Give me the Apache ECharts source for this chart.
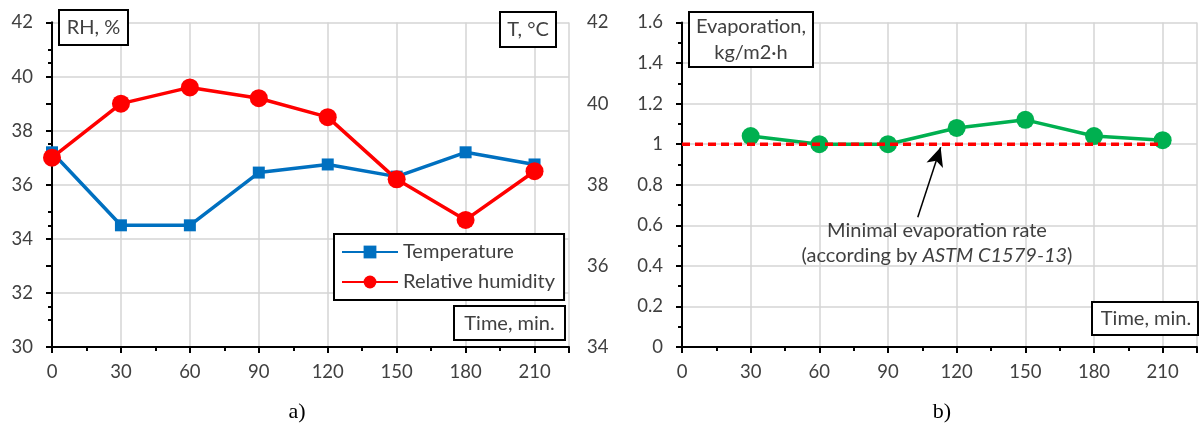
<!DOCTYPE html>
<html>
<head>
<meta charset="utf-8">
<script src="https://cdn.jsdelivr.net/npm/echarts@6/dist/echarts.min.js"></script>
<style>
html,body{margin:0;padding:0;background:#fff;}
#c{width:1200px;height:425px;}
</style>
</head>
<body>
<div id="c"></div>
<script>
// ---- data ----
const timeA = [0, 30, 60, 90, 120, 150, 180, 210];
const temperature = [38.8, 37.0, 37.0, 38.3, 38.5, 38.2, 38.8, 38.5];
const humidity = [37.0, 39.0, 39.6, 39.2, 38.5, 36.2, 34.7, 36.5];
const timeB = [30, 60, 90, 120, 150, 180, 210];
const evaporation = [1.04, 1.0, 1.0, 1.08, 1.12, 1.04, 1.02];
const minRateX = [0, 210];
const minRate = 1.0;
const arrowFrom = [103, 0.64];
const arrowTo = [113, 0.985];

const FONT = 'Lato';
const TXT = '#404040';
const GRID = '#d4d4d4';
const LBL = 18.5;
const BOX = 20;

function pair(xs, ys) { return xs.map((x, i) => [x, ys[i]]); }

function mainX(gridIndex) {
  return {
    type: 'value', gridIndex, min: 0, max: 225, interval: 30, position: 'bottom',
    axisLine: { show: true, onZero: false, lineStyle: { color: '#000', width: 2 } },
    axisTick: { show: true, length: 6, lineStyle: { color: '#000', width: 2 } },
    axisLabel: { margin: 16, fontFamily: FONT, fontSize: LBL, color: TXT,
      formatter: v => (v <= 210 ? String(v) : '') },
    splitLine: { show: true, lineStyle: { color: GRID, width: 1.5 } }
  };
}
function minorX(gridIndex) {
  return {
    type: 'value', gridIndex, min: 0, max: 225, interval: 15, position: 'bottom',
    axisLine: { show: false, onZero: false },
    axisTick: { show: true, length: 4, lineStyle: { color: '#000', width: 2 } },
    axisLabel: { show: false },
    splitLine: { show: false }
  };
}

const chart = echarts.init(document.getElementById('c'), null, { renderer: 'canvas' });

const option = {
  animation: false,
  backgroundColor: '#fff',
  grid: [
    { left: 52, top: 22.5, width: 517, height: 324.5 },
    { left: 682, top: 22.5, width: 535, height: 324.5 }
  ],
  xAxis: [mainX(0), minorX(0), mainX(1), minorX(1)],
  yAxis: [
    {
      type: 'value', gridIndex: 0, min: 30, max: 42, interval: 2, position: 'left',
      axisLine: { show: true, lineStyle: { color: '#000', width: 2 } },
      axisTick: { show: true, length: 6, lineStyle: { color: '#000', width: 2 } },
      minorTick: { show: true, splitNumber: 2, length: 4, lineStyle: { color: '#000', width: 2 } },
      axisLabel: { margin: 19, fontFamily: FONT, fontSize: LBL, color: TXT },
      splitLine: { show: true, lineStyle: { color: GRID, width: 1.5 } }
    },
    {
      type: 'value', gridIndex: 0, min: 34, max: 42, interval: 2, position: 'right',
      axisLine: { show: true, lineStyle: { color: '#000', width: 2 } },
      axisTick: { show: true, inside: true, length: 6, lineStyle: { color: '#000', width: 2 } },
      minorTick: { show: true, splitNumber: 2, length: 4, lineStyle: { color: '#000', width: 2 } },
      axisLabel: { margin: 18, fontFamily: FONT, fontSize: LBL, color: TXT },
      splitLine: { show: false }
    },
    {
      type: 'value', gridIndex: 1, min: 0, max: 1.6, interval: 0.2, position: 'left',
      axisLine: { show: true, lineStyle: { color: '#000', width: 2 } },
      axisTick: { show: true, length: 6, lineStyle: { color: '#000', width: 2 } },
      minorTick: { show: true, splitNumber: 2, length: 4, lineStyle: { color: '#000', width: 2 } },
      axisLabel: { margin: 19, fontFamily: FONT, fontSize: LBL, color: TXT },
      splitLine: { show: true, lineStyle: { color: GRID, width: 1.5 } }
    }
  ],
  legend: {
    data: ['Temperature', 'Relative humidity'],
    orient: 'vertical', left: 334, top: 234,
    padding: [8, 9, 8, 7], itemGap: 10, itemWidth: 56, itemHeight: 16,
    borderColor: '#000', borderWidth: 2, backgroundColor: '#fff',
    textStyle: { fontFamily: FONT, fontSize: BOX, color: TXT, padding: [0, 0, 0, 0] }
  },
  series: [
    {
      name: 'Temperature', type: 'line', xAxisIndex: 0, yAxisIndex: 1,
      data: pair(timeA, temperature),
      symbol: 'rect', symbolSize: 12,
      lineStyle: { color: '#0070C0', width: 3.5 },
      itemStyle: { color: '#0070C0' }, z: 3
    },
    {
      name: 'Relative humidity', type: 'line', xAxisIndex: 0, yAxisIndex: 0,
      data: pair(timeA, humidity),
      symbol: 'circle', symbolSize: 18,
      lineStyle: { color: '#FF0000', width: 3.5 },
      itemStyle: { color: '#FF0000' }, z: 4
    },
    {
      name: 'Evaporation', type: 'line', xAxisIndex: 2, yAxisIndex: 2,
      data: pair(timeB, evaporation),
      symbol: 'circle', symbolSize: 18,
      lineStyle: { color: '#00B050', width: 3.5 },
      itemStyle: { color: '#00B050' }, z: 3,
      markLine: {
        silent: true, animation: false,
        symbol: ['none', 'arrow'], symbolSize: [13, 19],
        label: { show: false },
        lineStyle: { color: '#000', width: 1.5, type: 'solid' },
        data: [[{ coord: arrowFrom }, { coord: arrowTo }]]
      }
    },
    {
      name: 'Minimal evaporation rate', type: 'line', xAxisIndex: 2, yAxisIndex: 2,
      data: minRateX.map(x => [x, minRate]),
      symbol: 'none',
      lineStyle: { color: '#FF0000', width: 3.5, type: [8, 5] }, z: 5
    }
  ],
  graphic: [
    // RH box
    { type: 'rect', shape: { x: 59, y: 10, width: 69, height: 35 }, style: { fill: '#fff', stroke: '#000', lineWidth: 2 }, z: 10 },
    { type: 'text', x: 93.5, y: 28, style: { text: 'RH, %', font: BOX + 'px Lato', fill: TXT, align: 'center', verticalAlign: 'middle' }, z: 11 },
    // T box
    { type: 'rect', shape: { x: 500, y: 12, width: 56, height: 35 }, style: { fill: '#fff', stroke: '#000', lineWidth: 2 }, z: 10 },
    { type: 'text', x: 528, y: 30, style: { text: 'T, \u00B0C', font: BOX + 'px Lato', fill: TXT, align: 'center', verticalAlign: 'middle' }, z: 11 },
    // Time box left
    { type: 'rect', shape: { x: 454, y: 306, width: 111, height: 34 }, style: { fill: '#fff', stroke: '#000', lineWidth: 2 }, z: 10 },
    { type: 'text', x: 509.5, y: 323.5, style: { text: 'Time, min.', font: BOX + 'px Lato', fill: TXT, align: 'center', verticalAlign: 'middle' }, z: 11 },
    // Evaporation box
    { type: 'rect', shape: { x: 689, y: 12, width: 124, height: 55 }, style: { fill: '#fff', stroke: '#000', lineWidth: 2 }, z: 10 },
    { type: 'text', x: 751, y: 40, style: { text: 'Evaporation,\nkg/m2\u00B7h', font: BOX + 'px Lato', fill: TXT, align: 'center', verticalAlign: 'middle', lineHeight: 26 }, z: 11 },
    // Time box right
    { type: 'rect', shape: { x: 1092, y: 302, width: 106, height: 33 }, style: { fill: '#fff', stroke: '#000', lineWidth: 2 }, z: 10 },
    { type: 'text', x: 1146, y: 319, style: { text: 'Time, min.', font: BOX + 'px Lato', fill: TXT, align: 'center', verticalAlign: 'middle' }, z: 11 },
    // Annotation
    { type: 'text', x: 937, y: 243, style: {
        text: 'Minimal evaporation rate\n(according by {i|ASTM C1579-13})',
        font: BOX + 'px Lato', fill: TXT, align: 'center', verticalAlign: 'middle', lineHeight: 25,
        rich: { i: { fontStyle: 'italic', fontFamily: FONT, fontSize: BOX, fill: TXT } }
      }, z: 11 },
    // captions
    { type: 'text', x: 297, y: 412, style: { text: 'a)', font: '22px "Liberation Serif"', fill: '#000', align: 'center', verticalAlign: 'middle' } },
    { type: 'text', x: 942, y: 412, style: { text: 'b)', font: '22px "Liberation Serif"', fill: '#000', align: 'center', verticalAlign: 'middle' } }
  ]
};
chart.setOption(option);
</script>
</body>
</html>
